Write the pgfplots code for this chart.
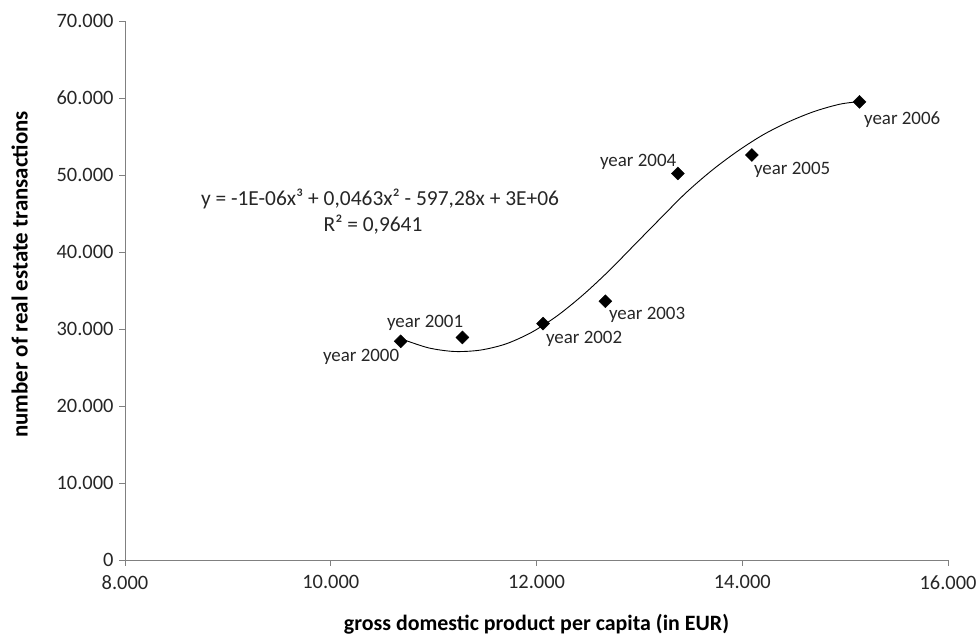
\documentclass[border=0pt]{standalone}
\usepackage{pgfplots}
\pgfplotsset{compat=1.18}
\usepackage{fontspec}
\setmainfont{Carlito}

\pgfplotstableread{
x y
10680 28400
11280 28900
12064 30700
12670 33600
13374 50200
14093 52600
15140 59500
}\points

% trendline
\pgfplotstableread{
x y
10700 28650
10950 27550
11200 27080
11450 27250
11700 28050
11950 29550
12200 31700
12450 34400
12700 37500
12950 40900
13200 44300
13450 47650
13700 50550
13950 53050
14200 55200
14450 56900
14700 58250
14950 59200
15150 59550
}\trend

\begin{document}
\begin{tikzpicture}[x=1bp,y=1bp]
\path[use as bounding box] (0,0) rectangle (978,637);
\begin{axis}[
  at={(125bp,77bp)}, anchor=south west,
  scale only axis, width=823bp, height=539bp,
  xmin=8000, xmax=16000, ymin=0, ymax=70000,
  xtick={8000,10000,...,16000},
  ytick={0,10000,...,70000},
  scaled ticks=false,
  axis x line*=bottom, axis y line*=left,
  axis line style={color=black!50, line width=0.8pt},
  tick style={color=black!50, line width=0.8pt},
  tick align=outside, major tick length=6bp,
  /pgf/number format/.cd, 1000 sep={.}, assume math mode=true, /pgfplots/.cd,
  ticklabel style={font=\fontsize{20.5}{24}\selectfont, color=black!85},
  xticklabel style={yshift=-6bp},
  yticklabel style={xshift=-2bp},
  xlabel={gross domestic product per capita (in EUR)},
  ylabel={number of real estate transactions},
  xlabel style={font=\fontsize{22}{26}\selectfont\bfseries,
    at={(axis description cs:0.5,-0.12)}, anchor=center},
  ylabel style={font=\fontsize{23}{27}\selectfont\bfseries,
    at={(axis description cs:-0.128,0.53)}, anchor=center, rotate=0},
  clip=false,
]
\addplot[black, line width=0.9pt, smooth, no marks] table {\trend};
\addplot[only marks, mark=square*, mark size=4.6bp, mark options={rotate=45, fill=black, draw=black}] table {\points};

\begin{scope}[every node/.style={font=\fontsize{19}{23}\selectfont, text=black!85, inner sep=0pt}]
\node at (axis cs:10295,26364) {year 2000};
\node at (axis cs:10917,30779) {year 2001};
\node at (axis cs:12463,28701) {year 2002};
\node at (axis cs:13075,31818) {year 2003};
\node at (axis cs:12988,51688) {year 2004};
\node at (axis cs:14485,50649) {year 2005};
\node at (axis cs:15555,57143) {year 2006};
\node[font=\fontsize{21.5}{25}\selectfont] at (axis cs:10479,46883) {y = -1E-06x³ + 0,0463x² - 597,28x + 3E+06};
\node[font=\fontsize{21.5}{25}\selectfont] at (axis cs:10411,43500) {R² = 0,9641};
\end{scope}
\end{axis}
\end{tikzpicture}
\end{document}
